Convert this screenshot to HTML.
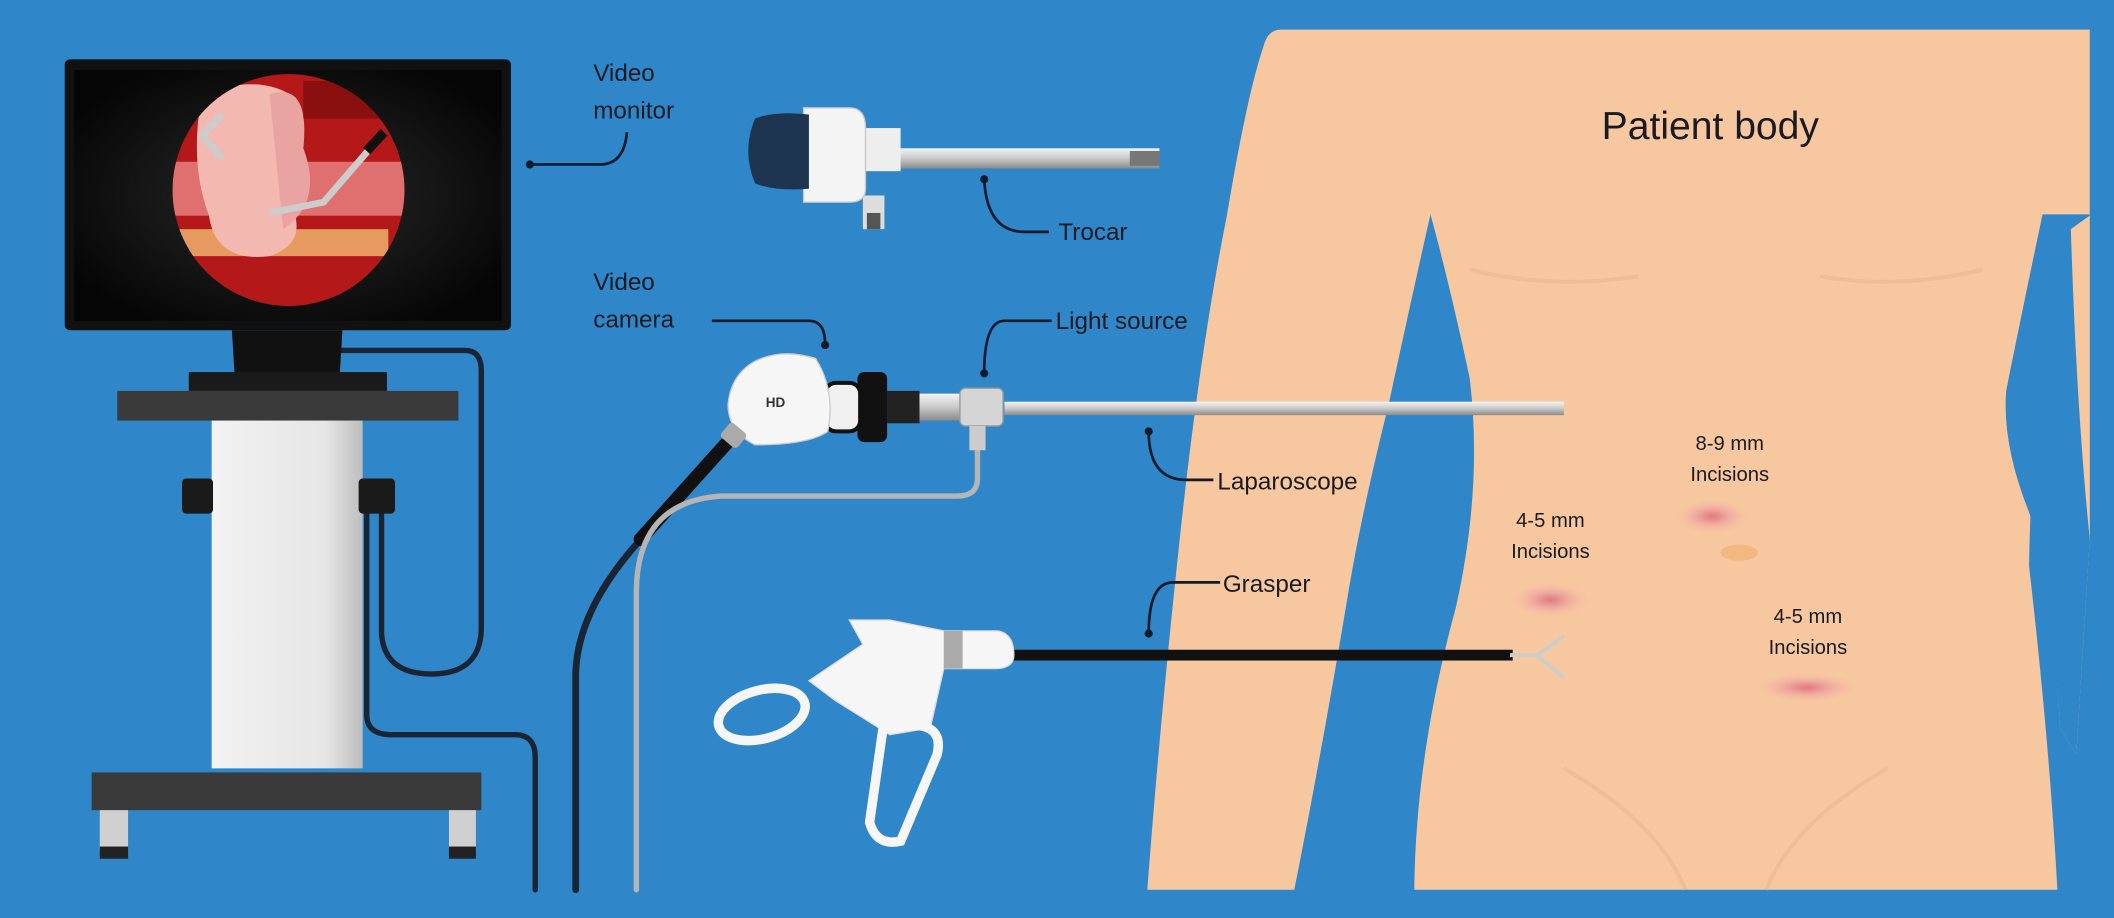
<!DOCTYPE html>
<html><head><meta charset="utf-8"><style>html,body{margin:0;padding:0;background:#2f86c8}svg{display:block}</style></head>
<body>
<svg width="2114" height="918" viewBox="0 0 1568 681" preserveAspectRatio="none" xmlns="http://www.w3.org/2000/svg" font-family="Liberation Sans, sans-serif">
<defs>
<radialGradient id="scr" cx="0.5" cy="0.5" r="0.6"><stop offset="0.4" stop-color="#1c1c1c"/><stop offset="1" stop-color="#050505"/></radialGradient>
<linearGradient id="col" x1="0" x2="1"><stop offset="0" stop-color="#f2f2f2"/><stop offset="0.75" stop-color="#e6e6e6"/><stop offset="1" stop-color="#bdbdbd"/></linearGradient>
<linearGradient id="metal" x1="0" y1="0" x2="0" y2="1"><stop offset="0" stop-color="#f4f4f4"/><stop offset="0.5" stop-color="#c9c9c9"/><stop offset="1" stop-color="#8a8a8a"/></linearGradient>
<clipPath id="circ"><circle cx="214" cy="141" r="86"/></clipPath>
<radialGradient id="inc"><stop offset="0" stop-color="#e07b7b"/><stop offset="0.4" stop-color="#f0a8a0"/><stop offset="1" stop-color="#f7c8a0" stop-opacity="0"/></radialGradient>
</defs>
<rect width="1568" height="681" fill="#2f86c8"/>

<!-- Body -->
<path d="M950,22 H1550 V400 L1540,560 L1528,540 Q1522,430 1510,380 Q1485,320 1487,290 Q1500,220 1514,159 Q1505,400 1505,420 Q1520,550 1526,660 H1049 Q1050,560 1080,450 Q1100,360 1090,280 Q1075,210 1061,159 Q1045,230 1030,300 Q1010,380 1000,440 Q980,560 960,660 H851 Q860,540 875,400 Q890,260 910,160 Q925,70 937,35 Q940,22 950,22 Z" fill="#f7c8a0"/>
<path d="M1515,159 Q1500,230 1488,290 Q1485,330 1505,380 Q1522,430 1528,540 L1540,560 L1550,400 V159 Z" fill="#2f86c8"/>
<path d="M1536,170 Q1540,300 1550,400 L1550,160 Z" fill="#f7c8a0"/>
<path d="M1090,200 Q1150,215 1215,205 M1350,205 Q1410,215 1470,200" stroke="#eab690" stroke-width="3" fill="none" opacity="0.6"/>
<path d="M1160,570 Q1230,610 1250,660 M1400,570 Q1330,610 1310,660" stroke="#eab690" stroke-width="3" fill="none" opacity="0.6"/>
<text x="1188" y="103" font-size="29" fill="#1a1a22">Patient body</text>
<ellipse cx="1270" cy="383" rx="30" ry="14" fill="url(#inc)"/>
<ellipse cx="1290" cy="410" rx="14" ry="6" fill="#f0b070" opacity="0.7"/>
<ellipse cx="1150" cy="445" rx="32" ry="14" fill="url(#inc)"/>
<ellipse cx="1340" cy="510" rx="42" ry="12" fill="url(#inc)"/>
<g font-size="15" fill="#1a1a22" text-anchor="middle">
<text x="1283" y="334">8-9 mm</text><text x="1283" y="357">Incisions</text>
<text x="1150" y="391">4-5 mm</text><text x="1150" y="414">Incisions</text>
<text x="1341" y="462">4-5 mm</text><text x="1341" y="485">Incisions</text>
</g>

<!-- cables -->
<g fill="none" stroke-linecap="round">
<path d="M254,260 H345 Q357,260 357,275 V465 Q357,500 320,500 Q285,500 283,470 V380" stroke="#1b2433" stroke-width="4"/>
<path d="M272,380 V530 Q272,545 290,545 H382 Q397,545 397,562 V660" stroke="#1b2433" stroke-width="4"/>
<path d="M545,322 L480,395 Q428,450 427,500 V660" stroke="#1b2433" stroke-width="5"/>
<path d="M545,322 L475,400" stroke="#111" stroke-width="10"/>
<path d="M725,320 V355 Q725,368 710,368 H535 Q472,372 472,440 V660" stroke="#b5b5b5" stroke-width="4"/>
</g>

<!-- Monitor cart -->
<rect x="48" y="44" width="331" height="201" rx="4" fill="#111"/>
<rect x="55" y="52" width="317" height="186" fill="url(#scr)"/>
<g clip-path="url(#circ)">
<rect x="120" y="50" width="200" height="190" fill="#b51818"/>
<rect x="128" y="120" width="180" height="40" fill="#e07070"/>
<rect x="128" y="170" width="160" height="20" fill="#e79a60"/>
<path d="M150,70 Q190,55 215,70 Q230,110 215,150 Q230,180 200,190 Q160,195 155,160 Q140,120 150,70Z" fill="#f3b8b0"/>
<path d="M200,70 Q230,60 225,110 Q240,150 210,170 Z" fill="#e9a3a0"/>
<rect x="225" y="60" width="80" height="28" fill="#8a0f0f"/>
<path d="M285,98 L240,150 L200,158" stroke="#ccc" stroke-width="5" fill="none"/>
<path d="M285,98 L272,112" stroke="#111" stroke-width="7"/>
<path d="M165,85 L150,100 L165,118" stroke="#ccc" stroke-width="5" fill="none"/>
</g>
<path d="M172,245 H254 L252,278 H174 Z" fill="#111"/>
<rect x="140" y="276" width="147" height="14" fill="#1a1a1a"/>
<rect x="87" y="290" width="253" height="22" fill="#3a3a3a"/>
<rect x="157" y="312" width="112" height="258" fill="url(#col)"/>
<rect x="135" y="355" width="23" height="26" rx="3" fill="#1a1a1a"/>
<rect x="266" y="355" width="27" height="26" rx="3" fill="#1a1a1a"/>
<rect x="68" y="573" width="289" height="28" fill="#3a3a3a"/>
<rect x="74" y="601" width="21" height="30" fill="#d0d0d0"/><rect x="74" y="628" width="21" height="9" fill="#222"/>
<rect x="333" y="601" width="20" height="30" fill="#d0d0d0"/><rect x="333" y="628" width="20" height="9" fill="#222"/>

<!-- Trocar -->
<rect x="665" y="110" width="195" height="15" fill="url(#metal)"/>
<rect x="838" y="112" width="22" height="11" fill="#777"/>
<rect x="640" y="95" width="28" height="32" fill="#eee"/>
<rect x="640" y="145" width="16" height="25" fill="#ddd"/><rect x="643" y="158" width="10" height="12" fill="#555"/>
<path d="M596,80 H630 Q642,80 642,95 V140 Q642,150 630,150 H596 Z" fill="#f4f4f4" stroke="#c7c7c7"/>
<path d="M600,85 Q575,82 560,88 Q550,112 560,136 Q575,142 600,140 Z" fill="#1e3552"/>

<!-- Laparoscope -->
<rect x="745" y="298" width="415" height="10" fill="url(#metal)"/>
<rect x="680" y="292" width="42" height="20" fill="url(#metal)"/>
<rect x="712" y="288" width="32" height="28" rx="4" fill="#d5d5d5" stroke="#999"/>
<rect x="719" y="316" width="12" height="18" fill="#ccc"/>
<rect x="658" y="290" width="24" height="24" fill="#222"/>
<rect x="636" y="276" width="22" height="52" rx="5" fill="#111"/>
<rect x="612" y="284" width="26" height="36" rx="8" fill="#f0f0f0" stroke="#111" stroke-width="3"/>
<path d="M560,268 Q580,258 605,266 Q620,290 614,320 Q600,330 560,330 Q540,320 540,300 Q542,278 560,268Z" fill="#f6f6f6" stroke="#ccc"/>
<text x="568" y="302" font-size="10" fill="#333" font-weight="bold">HD</text>
<rect x="536" y="316" width="16" height="14" rx="3" fill="#aaa" transform="rotate(40 544 323)"/>

<!-- Grasper -->
<rect x="750" y="482" width="372" height="8" fill="#111"/>
<path d="M1120,486 L1140,486 L1160,472 M1140,486 L1160,503" stroke="#ccc" stroke-width="3" fill="none"/>
<path d="M630,460 H660 L700,468 H740 Q752,470 752,486 Q752,495 740,496 H700 L690,540 L660,545 L620,520 L600,505 L640,478 Z" fill="#f6f6f6" stroke="#ddd"/>
<rect x="700" y="468" width="14" height="28" fill="#aaa"/>
<ellipse cx="565" cy="530" rx="33" ry="18" fill="none" stroke="#f6f6f6" stroke-width="7" transform="rotate(-15 565 530)"/>
<path d="M655,540 L645,610 Q650,628 668,624 L695,560 Q700,540 680,538 Z" fill="none" stroke="#f6f6f6" stroke-width="7"/>

<!-- Labels & connectors -->
<g fill="none" stroke="#0f1a2a" stroke-width="2">
<path d="M393,122 H445 Q463,122 465,98"/>
<path d="M730,133 Q732,172 760,172 H778"/>
<path d="M528,238 H600 Q612,238 612,255"/>
<path d="M780,238 H745 Q730,238 730,277"/>
<path d="M852,320 Q852,356 880,356 H900"/>
<path d="M905,432 H870 Q852,432 852,470"/>
</g>
<g fill="#0f1a2a"><circle cx="393" cy="122" r="3"/><circle cx="730" cy="133" r="3"/><circle cx="612" cy="256" r="3"/><circle cx="730" cy="277" r="3"/><circle cx="852" cy="320" r="3"/><circle cx="852" cy="470" r="3"/></g>
<g font-size="18" fill="#1a1a22">
<text x="440" y="60">Video</text><text x="440" y="88">monitor</text>
<text x="785" y="178">Trocar</text>
<text x="440" y="215">Video</text><text x="440" y="243">camera</text>
<text x="783" y="244">Light source</text>
<text x="903" y="363">Laparoscope</text>
<text x="907" y="439">Grasper</text>
</g>
</svg>
</body></html>
